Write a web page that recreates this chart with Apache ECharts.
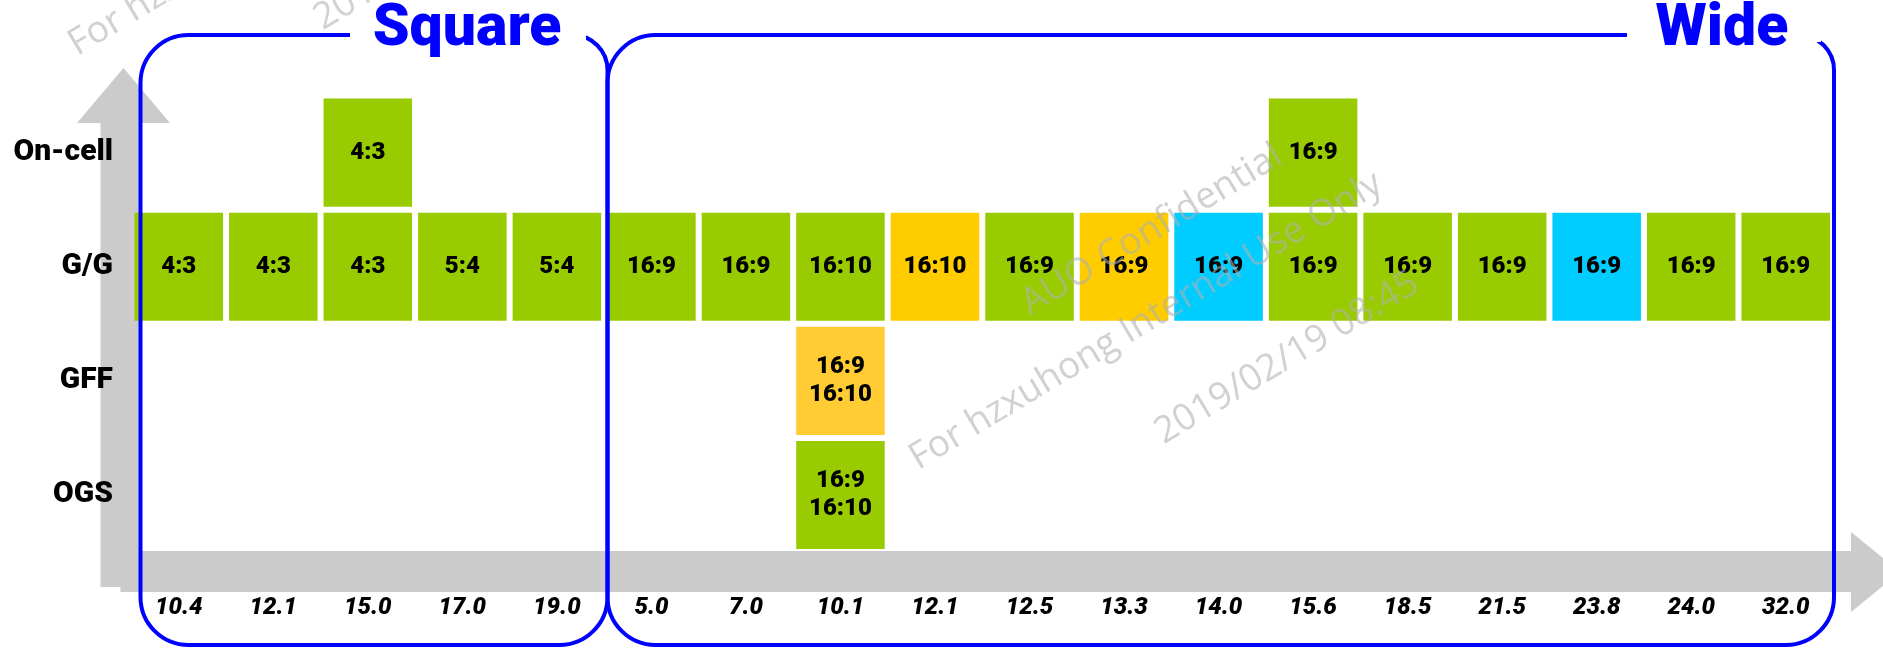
<!DOCTYPE html>
<html>
<head>
<meta charset="utf-8">
<script src="https://cdn.jsdelivr.net/npm/echarts@6/dist/echarts.min.js"></script>
<style>
html,body{margin:0;padding:0;background:#fff;}
#chart{width:1883px;height:649px;}
</style>
</head>
<body>
<div id="chart"></div>
<script>
// ---- data ----
const sizes = ['10.4','12.1','15.0','17.0','19.0','5.0','7.0','10.1','12.1','12.5','13.3','14.0','15.6','18.5','21.5','23.8','24.0','32.0'];
const techs = ['OGS', 'GFF', 'G/G', 'On-cell'];   // bottom to top

const ratioOnCell = ['', '', '4:3', '', '', '', '', '', '', '', '', '', '16:9', '', '', '', '', ''];
const colorOnCell = ['', '', 'G', '', '', '', '', '', '', '', '', '', 'G', '', '', '', '', ''];

const ratioGG = ['4:3','4:3','4:3','5:4','5:4','16:9','16:9','16:10','16:10','16:9','16:9','16:9','16:9','16:9','16:9','16:9','16:9','16:9'];
const colorGG = ['G','G','G','G','G','G','G','G','Y','G','Y','C','G','G','G','C','G','G'];

const ratioGFF = ['', '', '', '', '', '', '', '16:9\n16:10', '', '', '', '', '', '', '', '', '', ''];
const colorGFF = ['', '', '', '', '', '', '', 'O', '', '', '', '', '', '', '', '', '', ''];

const ratioOGS = ['', '', '', '', '', '', '', '16:9\n16:10', '', '', '', '', '', '', '', '', '', ''];
const colorOGS = ['', '', '', '', '', '', '', 'G', '', '', '', '', '', '', '', '', '', ''];

const groupTitles = ['Square', 'Wide'];
const watermarkLines = ['AUO Confidential', 'For hzxuhong Internal Use Only', '2019/02/19 08:45'];

// ---- build ----
const colorCodes = ['G', 'Y', 'C', 'O'];
const palette = ['#99CC00', '#FFCC00', '#00CCFF', '#FFCC33'];
const ratioRows = [ratioOGS, ratioGFF, ratioGG, ratioOnCell];
const colorRows = [colorOGS, colorGFF, colorGG, colorOnCell];

const cells = [];
ratioRows.forEach(function (row, yi) {
  row.forEach(function (txt, xi) {
    if (txt) cells.push([xi, yi, colorCodes.indexOf(colorRows[yi][xi])]);
  });
});

const chart = echarts.init(document.getElementById('chart'), null, {renderer: 'canvas'});

const FONT = 'Roboto, Lato, sans-serif';
const grey = '#cbcbcb';
const blue = '#0000FF';
const wmColor = 'rgba(175,175,175,0.58)';
const rot = 31 * Math.PI / 180;
const GAP = 3;

function watermark(dx, dy) {
  const pos = [[1152, 230], [1146, 321], [1287, 358]];
  return watermarkLines.map(function (t, i) {
    return {
      type: 'text', x: pos[i][0] + dx, y: pos[i][1] + dy, rotation: rot, z: 100, silent: true,
      style: {text: t, fill: wmColor, font: 'normal 37px "Open Sans", sans-serif', align: 'center', verticalAlign: 'middle'}
    };
  });
}

function renderCell(params, api) {
  const xi = api.value(0), yi = api.value(1);
  const c = api.coord([xi, yi]);
  const s = api.size([1, 1]);
  return {
    type: 'rect',
    shape: {x: c[0] - s[0] / 2 + GAP, y: c[1] - s[1] / 2 + GAP, width: s[0] - 2 * GAP, height: s[1] - 2 * GAP},
    style: {fill: palette[api.value(2)]},
    textContent: {
      type: 'text',
      style: {text: ratioRows[yi][xi], fill: '#000', font: '900 24px ' + FONT, lineHeight: 28, align: 'center', verticalAlign: 'middle'}
    },
    textConfig: {position: 'inside'}
  };
}

const option = {
  backgroundColor: '#ffffff',
  animation: false,
  grid: {left: 131.5, right: 50, top: 95.5, bottom: 97, outerBoundsMode: 'none', containLabel: false},
  xAxis: {
    type: 'category', data: sizes,
    axisLine: {show: false}, axisTick: {show: false}, splitLine: {show: false}, splitArea: {show: false},
    axisLabel: {interval: 0, margin: 44, color: '#000', fontFamily: FONT, fontWeight: 900, fontStyle: 'italic', fontSize: 24}
  },
  yAxis: {
    type: 'category', data: techs,
    axisLine: {show: false}, axisTick: {show: false}, splitLine: {show: false}, splitArea: {show: false},
    axisLabel: {margin: 18.5, color: '#000', fontFamily: FONT, fontWeight: 900, fontSize: 30}
  },
  series: [{
    type: 'custom',
    renderItem: renderCell,
    encode: {x: 0, y: 1},
    data: cells,
    silent: true
  }],
  graphic: [
    // y axis arrow
    {type: 'rect', z: 0, silent: true, shape: {x: 100.5, y: 123, width: 40, height: 464}, style: {fill: grey}},
    {type: 'polygon', z: 0, silent: true, shape: {points: [[77, 123], [170, 123], [123.5, 68]]}, style: {fill: grey}},
    // x axis arrow
    {type: 'rect', z: 0, silent: true, shape: {x: 120.5, y: 551, width: 1731, height: 41}, style: {fill: grey}},
    {type: 'polygon', z: 0, silent: true, shape: {points: [[1851, 532], [1851, 612], [1900, 572]]}, style: {fill: grey}},
    // group boxes
    {type: 'rect', z: 50, silent: true, shape: {x: 140.5, y: 35, width: 467, height: 610, r: [48, 35, 48, 48]}, style: {fill: null, stroke: blue, lineWidth: 4}},
    {type: 'rect', z: 50, silent: true, shape: {x: 607.5, y: 35, width: 1226.5, height: 610, r: [48, 35, 48, 48]}, style: {fill: null, stroke: blue, lineWidth: 4}},
    {type: 'rect', z: 51, silent: true, shape: {x: 350, y: 18, width: 236, height: 24}, style: {fill: '#fff'}},
    {type: 'rect', z: 51, silent: true, shape: {x: 1627, y: 18, width: 194, height: 24}, style: {fill: '#fff'}},
    {type: 'text', z: 52, silent: true, x: 467, y: 30, style: {text: groupTitles[0], fill: blue, font: '900 59px ' + FONT, align: 'center', verticalAlign: 'middle'}},
    {type: 'text', z: 52, silent: true, x: 1722, y: 30, style: {text: groupTitles[1], fill: blue, font: '900 59px ' + FONT, align: 'center', verticalAlign: 'middle'}}
  ].concat(watermark(0, 0)).concat(watermark(-841, -414))
};
chart.setOption(option);
</script>
</body>
</html>
